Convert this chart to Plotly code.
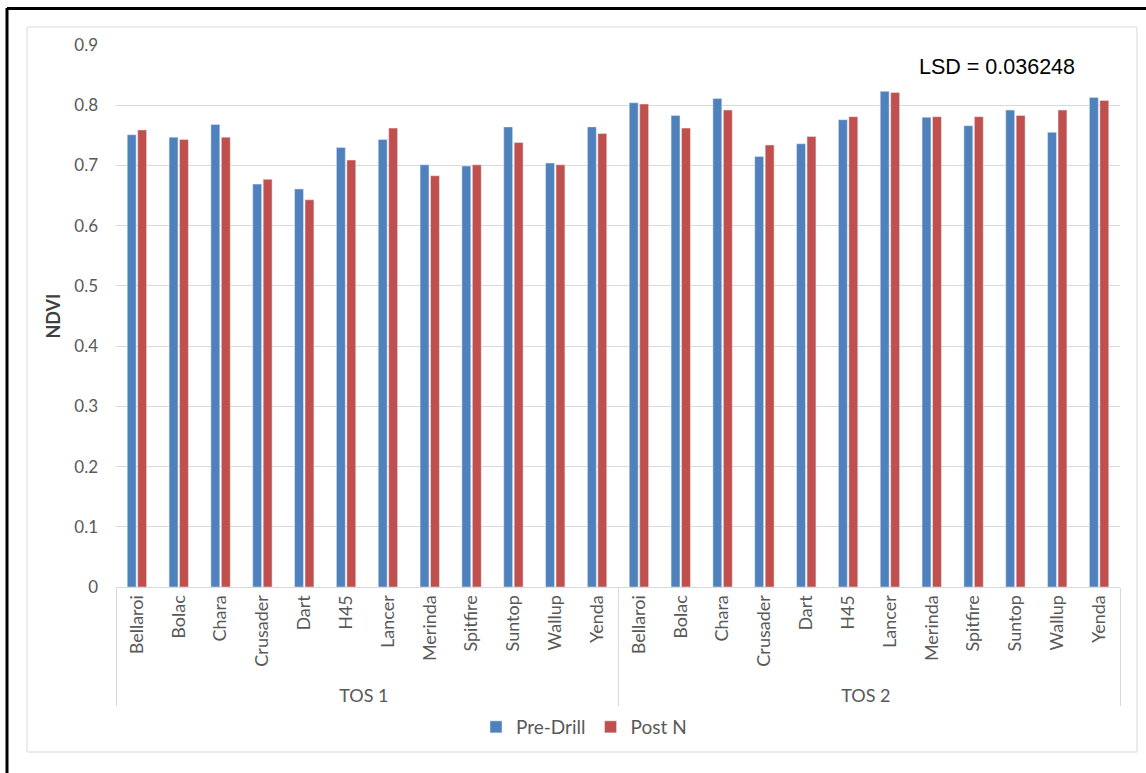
import plotly.graph_objects as go

# NDVI readings per cultivar, two times of sowing
cultivars = ["Bellaroi", "Bolac", "Chara", "Crusader", "Dart", "H45",
             "Lancer", "Merinda", "Spitfire", "Suntop", "Wallup", "Yenda"]
sowings = ["TOS 1", "TOS 2"]

pre_drill_tos1 = [0.751, 0.747, 0.768, 0.669, 0.661, 0.730,
                  0.743, 0.701, 0.699, 0.764, 0.704, 0.764]
post_n_tos1 = [0.759, 0.743, 0.747, 0.677, 0.643, 0.709,
               0.762, 0.683, 0.701, 0.738, 0.701, 0.753]
pre_drill_tos2 = [0.804, 0.783, 0.811, 0.715, 0.736, 0.776,
                  0.823, 0.780, 0.766, 0.792, 0.755, 0.813]
post_n_tos2 = [0.802, 0.762, 0.792, 0.734, 0.748, 0.781,
               0.821, 0.781, 0.781, 0.783, 0.792, 0.808]

y_ticks = [0, 0.1, 0.2, 0.3, 0.4, 0.5, 0.6, 0.7, 0.8, 0.9]
lsd_text = "LSD = 0.036248"

group_axis = [s for s in sowings for _ in cultivars]
name_axis = cultivars * len(sowings)

BLUE = "#4F81BD"
RED = "#C0504D"
GRID = "#d9d9d9"
TEXT = "#595959"
FONT = "Lato, Open Sans, sans-serif"

fig = go.Figure()
fig.add_trace(go.Bar(
    name="Pre-Drill", x=[group_axis, name_axis],
    y=pre_drill_tos1 + pre_drill_tos2, marker_color=BLUE,
))
fig.add_trace(go.Bar(
    name="Post N", x=[group_axis, name_axis],
    y=post_n_tos1 + post_n_tos2, marker_color=RED,
))

# plot area in pixels: x 116..1120, y 45..587
L, R, T, B = 116, 1120, 45, 587
W, H = R - L, B - T


def px_x(p):
    return (p - L) / W


def px_y(p):
    return (B - p) / H


shapes = [
    # light chart-area frame
    dict(type="rect", xref="paper", yref="paper",
         x0=px_x(27), x1=px_x(1137), y0=px_y(752), y1=px_y(27),
         line=dict(color=GRID, width=1), layer="below"),
    # dark outer frame edges
    dict(type="line", xref="paper", yref="paper",
         x0=px_x(7), x1=px_x(7), y0=px_y(8), y1=px_y(800),
         line=dict(color="black", width=3)),
    dict(type="line", xref="paper", yref="paper",
         x0=px_x(7), x1=px_x(1160), y0=px_y(8.5), y1=px_y(8.5),
         line=dict(color="black", width=3)),
]

fig.update_layout(
    width=1146, height=773,
    margin=dict(l=L, r=1146 - R, t=T, b=773 - B),
    paper_bgcolor="white", plot_bgcolor="white",
    font=dict(family=FONT, color=TEXT, size=17),
    barmode="group", bargap=0.5, bargroupgap=0.15,
    showlegend=True,
    legend=dict(orientation="h", x=px_x(584), y=px_y(727),
                xanchor="center", yanchor="middle",
                font=dict(size=19, color=TEXT, family=FONT),
                itemwidth=30, traceorder="normal"),
    shapes=shapes,
    annotations=[dict(
        text=lsd_text, xref="paper", yref="paper",
        x=px_x(917), y=px_y(67), xanchor="left", yanchor="middle",
        showarrow=False,
        font=dict(family="Liberation Sans, Arial, sans-serif",
                  size=21.5, color="black"),
    )],
)

fig.update_xaxes(
    type="multicategory", tickangle=-90,
    showline=True, linecolor=GRID, linewidth=1,
    showgrid=False, ticks="",
    showdividers=True, dividercolor=GRID, dividerwidth=1,
    tickfont=dict(size=18, color=TEXT, family=FONT),
)
fig.update_yaxes(
    range=[0, 0.9], tickvals=y_ticks,
    ticktext=["0" if v == 0 else f"{v:.1f}" for v in y_ticks],
    showgrid=True, gridcolor=GRID, gridwidth=1,
    zeroline=False, showline=False, ticks="",
    tickfont=dict(size=17, color=TEXT, family=FONT),
    ticklabelstandoff=17,
    title=dict(text="<b>NDVI</b>", standoff=8,
               font=dict(size=18, color="#404040", family=FONT)),
)

fig.write_html("out.html")
